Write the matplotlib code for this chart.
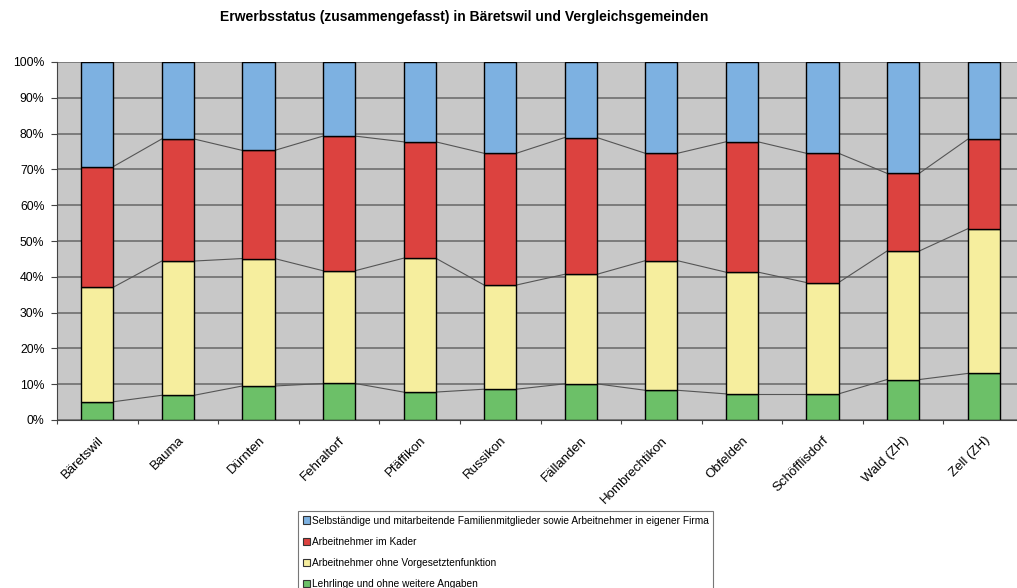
import numpy as np
import matplotlib.pyplot as plt
from matplotlib.patches import Patch
from matplotlib.ticker import PercentFormatter

# Gemeinden
gemeinden = ["Bäretswil", "Bauma", "Dürnten", "Fehraltorf", "Pfäffikon", "Russikon",
             "Fällanden", "Hombrechtikon", "Obfelden", "Schöfflisdorf", "Wald (ZH)", "Zell (ZH)"]

# Anteile in % (von unten nach oben)
lehrlinge = [5.1, 6.9, 9.5, 10.2, 7.8, 8.6, 10.1, 8.3, 7.3, 7.3, 11.3, 13.0]
ohne_vorg = [32.0, 37.5, 35.6, 31.5, 37.4, 29.1, 30.6, 36.2, 34.0, 31.1, 35.9, 40.4]
kader = [33.7, 34.1, 30.2, 37.6, 32.5, 36.8, 38.2, 30.0, 36.4, 36.1, 21.7, 25.0]
selbst = [29.2, 21.5, 24.7, 20.7, 22.3, 25.5, 21.1, 25.5, 22.3, 25.5, 31.1, 21.6]

serien = [lehrlinge, ohne_vorg, kader, selbst]
namen = ["Lehrlinge und ohne weitere Angaben",
         "Arbeitnehmer ohne Vorgesetztenfunktion",
         "Arbeitnehmer im Kader",
         "Selbständige und mitarbeitende Familienmitglieder sowie Arbeitnehmer in eigener Firma"]
farben = ["#6cc068", "#f6ee9e", "#dc423f", "#7db1e1"]

plt.rcParams['font.family'] = ['Liberation Sans', 'DejaVu Sans']

W, H = 1017, 588
fig = plt.figure(figsize=(W / 100, H / 100), dpi=100)
# plot area runs a bit past the right edge, like the original screenshot
ax = fig.add_axes([57 / W, 1 - 420 / H, (1024 - 57) / W, 358 / H])
ax.set_facecolor("#c8c8c8")

x = np.arange(len(gemeinden))
bw = 0.4
unten = np.zeros(len(gemeinden))
for werte, farbe in zip(serien, farben):
    werte = np.array(werte)
    ax.bar(x, werte, bw, bottom=unten, color=farbe, edgecolor="black", linewidth=1.0, zorder=3)
    unten = unten + werte
    # Serienlinien zwischen den Säulen
    if farbe != farben[-1]:
        for i in range(len(x) - 1):
            ax.plot([x[i] + bw / 2, x[i + 1] - bw / 2], [unten[i], unten[i + 1]],
                    color="#555555", lw=0.8, zorder=2)

ax.set_xlim(-0.5, len(gemeinden) - 0.5)
ax.set_ylim(0, 100)
ax.set_yticks(np.arange(0, 101, 10))
ax.yaxis.set_major_formatter(PercentFormatter(decimals=0))
ax.yaxis.grid(True, color="#6e6e6e", lw=1.2, zorder=1)
ax.set_axisbelow(True)

ax.set_xticks(np.arange(-0.5, len(gemeinden), 1.0))
ax.set_xticklabels([])
ax.tick_params(axis='x', length=3, color="#444444", direction='out')
ax.tick_params(axis='y', length=4, color="#444444", labelsize=8.8, pad=5)
for i, name in enumerate(gemeinden):
    ax.text(i + 0.0, -4.0, name, rotation=45, ha='right', va='top',
            rotation_mode='anchor', fontsize=9.5, transform=ax.transData)

for s in ["top", "right"]:
    ax.spines[s].set_visible(False)
ax.spines["left"].set_color("#444444")
ax.spines["bottom"].set_color("#444444")

fig.text(464 / W, 1 - 17 / H, "Erwerbsstatus (zusammengefasst) in Bäretswil und Vergleichsgemeinden",
         ha='center', va='center', fontsize=10, fontweight='bold')

handles = [Patch(facecolor=f, edgecolor="#333333", lw=0.8) for f in farben][::-1]
leg = fig.legend(handles, namen[::-1], loc='upper left', bbox_to_anchor=(298 / W, 1 - 511 / H),
                 fontsize=7.3, frameon=True, fancybox=False, edgecolor="#555555",
                 handlelength=0.7, handleheight=0.7, handletextpad=0.2,
                 labelspacing=1.1, borderpad=0.45, borderaxespad=0)
leg.get_frame().set_linewidth(0.8)

fig.savefig("out.png", dpi=100)
